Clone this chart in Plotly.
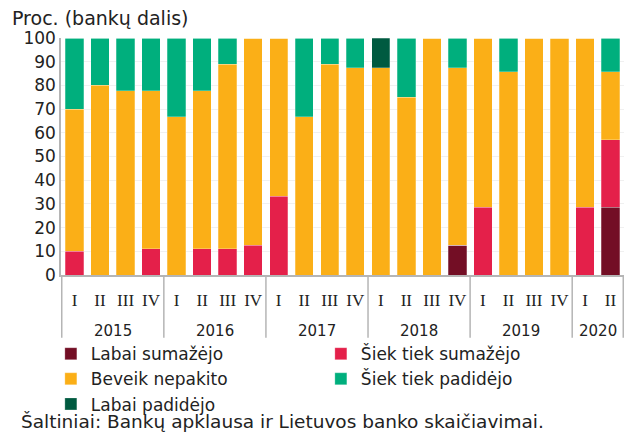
import plotly.graph_objects as go

years = ["2015", "2016", "2017", "2018", "2019", "2020"]
quarters_per_year = [4, 4, 4, 4, 4, 2]
quarter_names = ["I", "II", "III", "IV"]

labai_sumazejo = [0, 0, 0, 0, 0, 0, 0, 0, 0, 0, 0, 0, 0, 0, 0, 12.5, 0, 0, 0, 0, 0, 28.6]
siek_tiek_sumazejo = [10, 0, 0, 11.1, 0, 11.1, 11.1, 12.5, 33.3, 0, 0, 0, 0, 0, 0, 0, 28.6, 0, 0, 0, 28.6, 28.5]
beveik_nepakito = [60, 80, 77.8, 66.7, 66.7, 66.7, 77.8, 87.5, 66.7, 66.7, 88.9, 87.5, 87.5, 75, 100, 75, 71.4, 85.7, 100, 100, 71.4, 28.6]
siek_tiek_padidejo = [30, 20, 22.2, 22.2, 33.3, 22.2, 11.1, 0, 0, 33.3, 11.1, 12.5, 0, 25, 0, 12.5, 0, 14.3, 0, 0, 0, 14.3]
labai_padidejo = [0, 0, 0, 0, 0, 0, 0, 0, 0, 0, 0, 0, 12.5, 0, 0, 0, 0, 0, 0, 0, 0, 0]

series_names = ["Labai sumažėjo", "Šiek tiek sumažėjo", "Beveik nepakito", "Šiek tiek padidėjo", "Labai padidėjo"]
series_colors = ["#730E25", "#E4204A", "#FBAF17", "#00AF7D", "#005A40"]
series_values = [labai_sumazejo, siek_tiek_sumazejo, beveik_nepakito, siek_tiek_padidejo, labai_padidejo]

categories = []
tick_text = []
for y, n in zip(years, quarters_per_year):
    for q in quarter_names[:n]:
        categories.append(f"{y} {q}")
        tick_text.append(q)

fig = go.Figure()
for name, color, vals in zip(series_names, series_colors, series_values):
    fig.add_trace(go.Bar(x=categories, y=vals, name=name,
                         marker=dict(color=color, line=dict(width=0.5, color="rgba(255,255,255,0.5)"))))

font_main = "DejaVu Sans"
annotations = []
shapes = []
start = 0
for y, n in zip(years, quarters_per_year):
    mid = start + (n - 1) / 2
    annotations.append(dict(x=mid, y=-0.235, xref="x", yref="paper", text=y, showarrow=False,
                            font=dict(family=font_main, size=15, color="#222"), yanchor="middle"))
    shapes.append(dict(type="line", xref="x", yref="paper", x0=start - 0.5, x1=start - 0.5, y0=0, y1=-0.265,
                       line=dict(color="#b5b5b5", width=1.5)))
    start += n
shapes.append(dict(type="line", xref="x", yref="paper", x0=start - 0.5, x1=start - 0.5, y0=0, y1=-0.265,
                   line=dict(color="#b5b5b5", width=1.5)))

annotations.append(dict(x=-0.075, y=-0.62, xref="paper", yref="paper", xanchor="left", yanchor="middle",
                        text="Šaltiniai: Bankų apklausa ir Lietuvos banko skaičiavimai.", showarrow=False,
                        font=dict(family=font_main, size=18.5, color="#222")))

fig.update_layout(
    barmode="stack",
    bargap=0.28,
    width=626, height=432,
    margin=dict(l=61, r=2, t=38, b=157),
    paper_bgcolor="white", plot_bgcolor="white",
    font=dict(family=font_main, size=16, color="#222"),
    title=dict(text="Proc. (bankų dalis)", x=12 / 626, xanchor="left", xref="container",
               y=1 - 18 / 432, yanchor="middle", yref="container",
               font=dict(family=font_main, size=19, color="#222")),
    xaxis=dict(type="category", tickvals=categories, ticktext=tick_text, showgrid=False,
               showline=True, linecolor="#b5b5b5", linewidth=1.5, ticks="", ticklabelstandoff=9,
               tickfont=dict(family="Liberation Serif", size=17, color="#222")),
    yaxis=dict(range=[0, 100], dtick=10, showgrid=True, gridcolor="#f0f0f0", showline=True,
               linecolor="#b5b5b5", linewidth=1.5, ticks="", zeroline=False,
               tickfont=dict(family=font_main, size=17, color="#222")),
    legend=dict(orientation="h", x=-0.018, y=-0.258, xanchor="left", yanchor="top",
                entrywidth=225, entrywidthmode="pixels", traceorder="normal",
                font=dict(family=font_main, size=17, color="#222"), itemwidth=30,
                tracegroupgap=0, bgcolor="rgba(0,0,0,0)"),
    annotations=annotations,
    shapes=shapes,
)

fig.write_html("out.html", post_script="document.body.style.margin='0';",
               config={"displayModeBar": False})
